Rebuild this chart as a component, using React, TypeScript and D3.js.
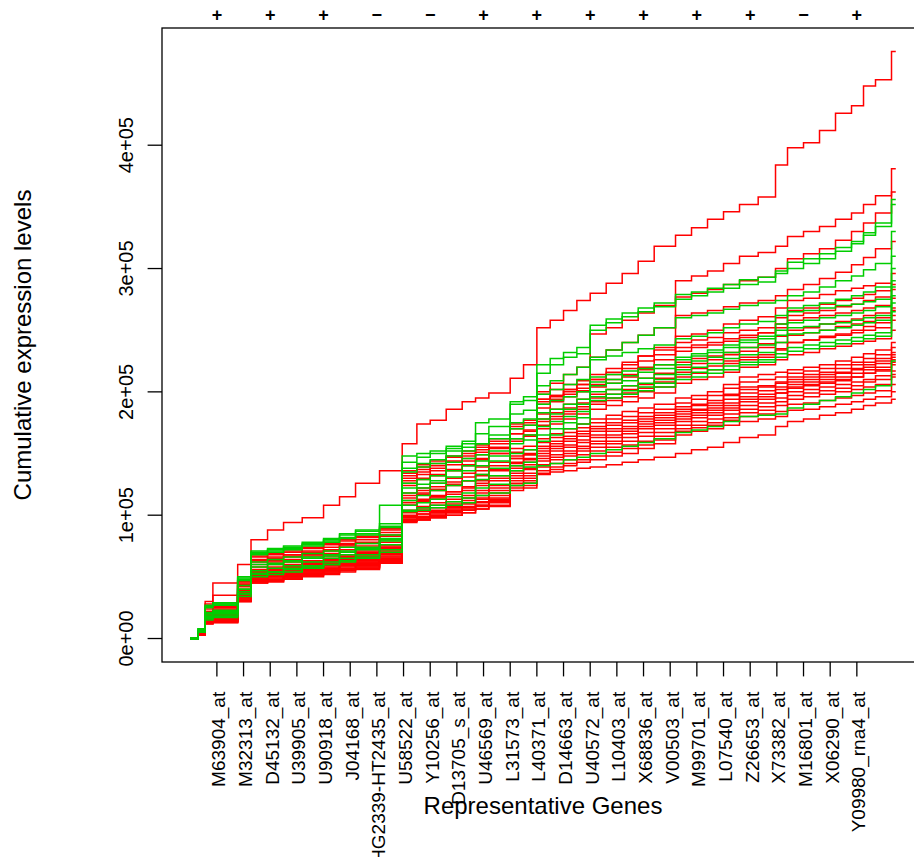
import React from "react";
import * as d3 from "d3";

// Gene index positions (in tick units) where each cumulative sum is sampled
const STEP_X = [0, 0.3, 0.56, 0.85, 1.78, 2.28, 2.9, 3.5, 4.2, 5, 5.6, 6.2, 7.1, 7.95, 8.5, 9, 9.6, 10.2, 10.7, 11.2, 12, 12.5, 13, 13.5, 14, 14.5, 15, 15.6, 16.2, 16.8, 17.4, 18.2, 18.8, 19.4, 20.0, 20.6, 21.3, 21.95, 22.4, 23.0, 23.6, 24.2, 24.8, 25.25, 25.7, 26.3, 26.46];

// Cumulative expression levels (thousands) — ALL samples (red)
const ALL_SAMPLES: number[][] = [
  [0, 6, 30, 45, 60, 80, 88, 94, 98, 108, 115, 126, 136, 158, 174, 177, 186, 192, 195, 199, 211, 222, 252, 258, 266, 274, 280, 288, 296, 306, 318, 327, 333, 340, 346, 352, 358, 384, 398, 402, 412, 426, 432, 448, 453, 476, 476],
  [0, 6, 28, 35, 47, 66, 68, 70, 73, 76, 79, 82, 88, 130, 135, 138, 143, 146, 151, 155, 166, 169, 194, 197, 202, 206, 210, 216, 222, 229, 236, 290, 294, 298, 304, 310, 313, 318, 326, 330, 334, 340, 345, 352, 359, 381, 381],
  [0, 6, 24, 26, 46, 67, 69, 71, 74, 77, 80, 83, 89, 134, 139, 142, 147, 150, 155, 160, 172, 175, 192, 196, 200, 203, 247, 252, 258, 264, 270, 277, 280, 283, 287, 290, 293, 300, 308, 312, 316, 323, 330, 337, 345, 362, 362],
  [0, 6, 22, 24, 44, 64, 66, 68, 71, 74, 77, 80, 86, 136, 141, 144, 148, 152, 157, 162, 174, 177, 200, 207, 214, 220, 228, 234, 240, 246, 252, 262, 264, 266, 269, 272, 274, 278, 283, 287, 292, 297, 303, 309, 316, 322, 322],
  [0, 5, 21, 23, 43, 62, 63, 66, 68, 71, 75, 77, 83, 132, 137, 140, 144, 148, 153, 158, 170, 173, 198, 202, 206, 209, 214, 219, 224, 229, 234, 245, 247, 250, 255, 258, 261, 268, 274, 276, 279, 282, 284, 286, 288, 296, 296],
  [0, 5, 20, 22, 42, 60, 62, 64, 67, 69, 72, 75, 80, 128, 133, 136, 141, 144, 149, 154, 166, 168, 194, 197, 202, 206, 210, 214, 219, 225, 230, 240, 242, 244, 248, 250, 252, 260, 266, 268, 271, 274, 276, 279, 282, 287, 287],
  [0, 6, 22, 25, 45, 63, 65, 67, 70, 72, 76, 78, 84, 126, 130, 133, 137, 141, 146, 150, 160, 164, 187, 192, 196, 200, 204, 207, 212, 218, 222, 233, 236, 238, 241, 244, 248, 255, 262, 264, 266, 269, 271, 274, 277, 283, 283],
  [0, 5, 18, 20, 39, 56, 58, 60, 63, 65, 68, 71, 76, 118, 122, 126, 130, 134, 139, 143, 154, 156, 182, 186, 190, 194, 198, 202, 205, 211, 215, 224, 227, 229, 232, 236, 239, 245, 250, 252, 255, 257, 259, 262, 264, 268, 268],
  [0, 5, 18, 19, 38, 55, 57, 59, 62, 64, 67, 70, 75, 114, 118, 121, 125, 128, 132, 136, 146, 149, 173, 178, 182, 186, 190, 193, 196, 200, 204, 212, 215, 218, 223, 226, 228, 234, 240, 242, 244, 246, 248, 250, 252, 258, 258],
  [0, 5, 19, 21, 40, 58, 60, 62, 65, 67, 70, 73, 78, 124, 129, 132, 136, 140, 145, 150, 162, 165, 190, 194, 198, 201, 206, 210, 214, 220, 226, 236, 238, 240, 243, 246, 248, 252, 258, 260, 262, 264, 266, 268, 270, 276, 276],
  [0, 4, 16, 18, 36, 53, 55, 57, 60, 62, 65, 67, 72, 112, 117, 120, 124, 128, 133, 137, 148, 150, 176, 180, 184, 188, 192, 195, 199, 203, 208, 216, 219, 221, 225, 228, 230, 235, 240, 242, 245, 247, 250, 253, 256, 262, 262],
  [0, 4, 15, 17, 35, 51, 53, 55, 58, 60, 63, 65, 70, 108, 112, 115, 119, 123, 128, 132, 142, 145, 170, 174, 178, 182, 186, 189, 192, 195, 199, 207, 210, 212, 216, 220, 222, 226, 230, 232, 235, 237, 239, 241, 243, 250, 250],
  [0, 4, 17, 19, 37, 54, 56, 58, 61, 63, 66, 69, 74, 116, 120, 123, 127, 131, 136, 140, 151, 153, 178, 183, 187, 191, 195, 198, 202, 206, 211, 220, 223, 226, 230, 233, 236, 240, 246, 248, 250, 253, 255, 257, 260, 266, 266],
  [0, 4, 17, 18, 37, 54, 56, 58, 61, 63, 66, 68, 73, 110, 113, 116, 119, 122, 126, 130, 146, 149, 162, 166, 170, 174, 178, 181, 184, 187, 190, 195, 197, 200, 206, 212, 214, 216, 218, 220, 222, 225, 228, 231, 234, 240, 240],
  [0, 4, 16, 17, 35, 52, 54, 56, 59, 61, 64, 66, 71, 108, 111, 114, 117, 120, 124, 128, 143, 146, 159, 163, 167, 171, 175, 178, 180, 183, 186, 191, 194, 197, 203, 208, 210, 212, 215, 217, 219, 222, 224, 227, 230, 236, 236],
  [0, 4, 15, 16, 34, 50, 52, 54, 57, 59, 62, 64, 69, 104, 107, 110, 113, 116, 120, 124, 140, 143, 156, 160, 164, 168, 172, 175, 177, 180, 183, 188, 190, 193, 198, 204, 205, 207, 210, 212, 214, 216, 219, 222, 225, 232, 232],
  [0, 3, 14, 15, 33, 49, 51, 53, 55, 57, 60, 62, 67, 102, 105, 108, 111, 114, 118, 122, 138, 141, 154, 158, 162, 166, 170, 173, 175, 178, 181, 186, 189, 191, 197, 202, 204, 208, 212, 214, 216, 219, 222, 224, 227, 230, 230],
  [0, 4, 16, 17, 34, 50, 51, 53, 56, 58, 61, 63, 68, 100, 103, 106, 109, 112, 116, 120, 136, 138, 152, 156, 160, 164, 168, 170, 172, 176, 179, 184, 186, 189, 194, 199, 201, 204, 208, 210, 212, 215, 218, 220, 223, 228, 228],
  [0, 3, 13, 14, 32, 48, 49, 51, 54, 56, 59, 61, 65, 99, 101, 104, 107, 110, 114, 118, 134, 137, 150, 154, 157, 161, 165, 168, 170, 174, 177, 182, 185, 187, 191, 196, 198, 202, 206, 208, 210, 212, 215, 218, 220, 226, 226],
  [0, 3, 14, 15, 33, 48, 50, 52, 55, 57, 60, 62, 66, 98, 101, 103, 106, 109, 113, 116, 132, 134, 148, 152, 155, 159, 163, 165, 168, 172, 175, 180, 183, 185, 189, 194, 196, 199, 203, 205, 207, 209, 212, 215, 218, 222, 222],
  [0, 3, 13, 14, 31, 47, 48, 50, 53, 55, 58, 60, 64, 97, 99, 102, 105, 107, 111, 114, 130, 132, 146, 149, 152, 156, 160, 163, 166, 170, 173, 178, 181, 183, 187, 192, 194, 199, 204, 206, 208, 210, 212, 215, 217, 224, 224],
  [0, 4, 15, 16, 33, 49, 50, 52, 54, 56, 59, 61, 65, 96, 99, 101, 104, 106, 110, 113, 128, 130, 144, 147, 150, 154, 158, 160, 163, 167, 170, 176, 179, 181, 185, 189, 191, 195, 200, 202, 204, 206, 208, 210, 213, 217, 217],
  [0, 3, 12, 13, 30, 46, 47, 49, 52, 54, 56, 58, 62, 96, 98, 100, 103, 105, 108, 111, 126, 128, 141, 145, 148, 152, 155, 158, 160, 164, 167, 173, 176, 178, 182, 186, 188, 192, 197, 199, 201, 203, 205, 208, 210, 214, 214],
  [0, 3, 14, 15, 31, 47, 48, 50, 53, 55, 57, 59, 63, 95, 97, 99, 102, 104, 107, 110, 124, 126, 139, 142, 145, 149, 152, 155, 157, 160, 164, 170, 173, 175, 179, 183, 185, 189, 194, 196, 198, 200, 202, 204, 206, 212, 212],
  [0, 3, 12, 13, 30, 45, 46, 48, 51, 53, 55, 57, 62, 94, 96, 98, 100, 102, 105, 108, 122, 124, 136, 139, 142, 145, 148, 151, 154, 157, 161, 168, 171, 173, 177, 180, 182, 184, 190, 191, 193, 195, 197, 199, 201, 206, 206],
  [0, 3, 13, 14, 31, 46, 47, 49, 52, 54, 56, 58, 62, 95, 96, 98, 100, 102, 105, 107, 120, 122, 134, 137, 140, 143, 145, 148, 150, 154, 158, 165, 168, 170, 173, 176, 178, 180, 185, 186, 188, 190, 192, 194, 196, 200, 200],
  [0, 3, 12, 13, 30, 45, 46, 48, 50, 52, 54, 56, 61, 96, 97, 99, 102, 104, 108, 112, 124, 126, 133, 135, 136, 138, 139, 141, 143, 145, 147, 150, 153, 155, 159, 163, 165, 172, 176, 178, 181, 183, 186, 189, 191, 194, 194],
];

// Cumulative expression levels (thousands) — AML samples (green)
const AML_SAMPLES: number[][] = [
  [0, 8, 26, 28, 50, 70, 72, 74, 77, 80, 84, 87, 108, 148, 150, 152, 156, 160, 166, 172, 192, 196, 222, 227, 232, 236, 254, 259, 264, 268, 272, 279, 281, 284, 287, 291, 293, 298, 305, 308, 312, 317, 322, 329, 337, 356, 356],
  [0, 8, 27, 29, 48, 71, 73, 75, 78, 81, 85, 88, 93, 143, 147, 150, 154, 158, 175, 178, 190, 193, 215, 222, 228, 231, 250, 256, 261, 265, 269, 275, 278, 281, 284, 287, 289, 296, 300, 304, 308, 314, 320, 327, 334, 352, 352],
  [0, 7, 25, 27, 47, 68, 70, 72, 75, 78, 81, 84, 90, 138, 142, 145, 148, 152, 158, 165, 182, 185, 205, 209, 214, 220, 228, 234, 240, 246, 252, 260, 262, 264, 267, 270, 272, 274, 278, 281, 285, 290, 294, 299, 304, 330, 330],
  [0, 8, 26, 28, 49, 69, 71, 73, 76, 79, 82, 85, 91, 135, 139, 142, 152, 155, 158, 162, 175, 178, 198, 202, 206, 210, 226, 229, 232, 235, 238, 243, 245, 248, 252, 255, 257, 262, 268, 270, 272, 275, 278, 281, 285, 310, 310],
  [0, 7, 21, 23, 43, 62, 64, 66, 69, 71, 74, 77, 84, 126, 129, 132, 143, 146, 149, 152, 170, 173, 190, 193, 196, 200, 212, 214, 217, 219, 222, 228, 231, 234, 238, 242, 245, 255, 265, 266, 268, 270, 271, 273, 275, 300, 300],
  [0, 6, 20, 22, 40, 58, 60, 62, 65, 67, 70, 73, 80, 122, 125, 128, 136, 140, 144, 148, 162, 165, 183, 186, 190, 194, 208, 210, 213, 216, 219, 226, 229, 232, 236, 240, 243, 250, 256, 258, 260, 262, 264, 266, 269, 290, 290],
  [0, 6, 18, 20, 38, 55, 57, 59, 62, 65, 68, 72, 79, 118, 122, 126, 131, 136, 140, 144, 158, 161, 178, 182, 186, 190, 205, 207, 209, 211, 214, 222, 225, 228, 232, 236, 238, 246, 252, 253, 255, 256, 258, 260, 262, 285, 285],
  [0, 5, 16, 18, 36, 52, 54, 57, 59, 62, 65, 68, 76, 112, 116, 120, 124, 128, 133, 138, 150, 153, 172, 176, 180, 184, 200, 202, 205, 207, 210, 218, 220, 223, 227, 230, 232, 240, 247, 248, 250, 252, 254, 256, 258, 278, 278],
  [0, 6, 19, 21, 40, 60, 61, 63, 66, 68, 71, 74, 81, 108, 110, 113, 115, 118, 129, 132, 140, 143, 165, 170, 175, 179, 196, 198, 201, 204, 207, 214, 216, 218, 221, 224, 226, 231, 236, 238, 240, 242, 244, 246, 248, 272, 272],
  [0, 5, 15, 17, 34, 50, 52, 54, 57, 60, 63, 66, 72, 104, 106, 108, 111, 114, 122, 125, 136, 139, 160, 165, 170, 174, 193, 195, 198, 201, 204, 210, 212, 215, 218, 222, 224, 228, 233, 235, 237, 239, 241, 243, 245, 265, 265],
  [0, 5, 17, 19, 36, 53, 54, 56, 58, 60, 62, 65, 70, 103, 104, 106, 108, 110, 116, 118, 124, 126, 140, 142, 145, 147, 150, 153, 156, 159, 162, 167, 169, 172, 176, 180, 181, 182, 187, 190, 193, 196, 199, 202, 205, 225, 225],
];

const GENE_LABELS = ["M63904_at", "M32313_at", "D45132_at", "U39905_at", "U90918_at", "J04168_at", "HG2339-HT2435_at", "U58522_at", "Y10256_at", "D13705_s_at", "U46569_at", "L31573_at", "L40371_at", "D14663_at", "U40572_at", "L10403_at", "X68836_at", "V00503_at", "M99701_at", "L07540_at", "Z26653_at", "X73382_at", "M16801_at", "X06290_at", "Y09980_rna4_at"];
const GENE_TICKS = [1, 2, 3, 4, 5, 6, 7, 8, 9, 10, 11, 12, 13, 14, 15, 16, 17, 18, 19, 20, 21, 22, 23, 24, 25];
const SIGN_TICKS = [1, 3, 5, 7, 9, 11, 13, 15, 17, 19, 21, 23, 25];
const SIGN_LABELS = ["+", "+", "+", "\u2212", "\u2212", "+", "+", "+", "+", "+", "+", "\u2212", "+"];
const Y_TICKS = [0, 100000, 200000, 300000, 400000];
const Y_TICK_LABELS = ["0e+00", "1e+05", "2e+05", "3e+05", "4e+05"];

const W = 914;
const H = 857;
const PL = 162, PR = 924, PT = 28, PB = 662;
const LINE_H = 28.8;
const FONT = "'Liberation Sans', Arial, Helvetica, sans-serif";
const RED = "#FF0000";
const GREEN = "#00CD00";

export default function App() {
  const xMin = d3.min(STEP_X) as number;
  const xMax = d3.max(STEP_X) as number;
  const xPad = (xMax - xMin) * 0.04;
  const x = d3.scaleLinear().domain([xMin - xPad, xMax + xPad]).range([PL, PR]);

  const allVals = [...ALL_SAMPLES, ...AML_SAMPLES].flat().map((v) => v * 1000);
  const yMax = d3.max(allVals) as number;
  const yMin = 0;
  const yPad = (yMax - yMin) * 0.04;
  const y = d3.scaleLinear().domain([yMin - yPad, yMax + yPad]).range([PB, PT]);

  const line = d3
    .line<number>()
    .x((_, i) => x(STEP_X[i]))
    .y((v) => y(v * 1000))
    .curve(d3.curveStepAfter);

  const tickLen = LINE_H * 0.5;

  return (
    <div style={{ position: "absolute", left: 0, top: 0 }}>
      <svg width={W} height={H} style={{ display: "block", background: "#fff" }} fontFamily={FONT}>
        <rect x={0} y={0} width={W} height={H} fill="#fff" />
        <g fill="none" strokeWidth={1.5} strokeLinejoin="miter">
          {ALL_SAMPLES.map((s, i) => (
            <path key={"r" + i} d={line(s) || ""} stroke={RED} />
          ))}
          {AML_SAMPLES.map((s, i) => (
            <path key={"g" + i} d={line(s) || ""} stroke={GREEN} />
          ))}
        </g>
        <rect x={PL} y={PT} width={PR - PL} height={PB - PT} fill="none" stroke="#000" strokeWidth={1.3} />
        <g>
          {Y_TICKS.map((t, i) => (
            <g key={t}>
              <line x1={PL - tickLen} x2={PL} y1={y(t)} y2={y(t)} stroke="#000" strokeWidth={1.3} />
              <text
                transform={`translate(${PL - LINE_H},${y(t)}) rotate(-90)`}
                textAnchor="middle"
                fontSize={20}
                fill="#000"
              >
                {Y_TICK_LABELS[i]}
              </text>
            </g>
          ))}
          <text
            transform={`translate(31,${(PT + PB) / 2}) rotate(-90)`}
            textAnchor="middle"
            fontSize={24}
            fill="#000"
          >
            Cumulative expression levels
          </text>
        </g>
        <g>
          {GENE_TICKS.map((t, i) => (
            <g key={t}>
              <line x1={x(t)} x2={x(t)} y1={PB} y2={PB + tickLen} stroke="#000" strokeWidth={1.3} />
              <text
                transform={`translate(${x(t) + 2},${PB + LINE_H + 1}) rotate(-90)`}
                textAnchor="end"
                dominantBaseline="central"
                fontSize={19}
                fill="#000"
              >
                {GENE_LABELS[i]}
              </text>
            </g>
          ))}
          <text x={(PL + PR) / 2} y={814} textAnchor="middle" fontSize={24} fill="#000">
            Representative Genes
          </text>
        </g>
        <g>
          {SIGN_TICKS.map((t, i) => (
            <text key={t} x={x(t)} y={21} textAnchor="middle" fontSize={18} fontWeight="bold" fill="#000">
              {SIGN_LABELS[i]}
            </text>
          ))}
        </g>
      </svg>
    </div>
  );
}
